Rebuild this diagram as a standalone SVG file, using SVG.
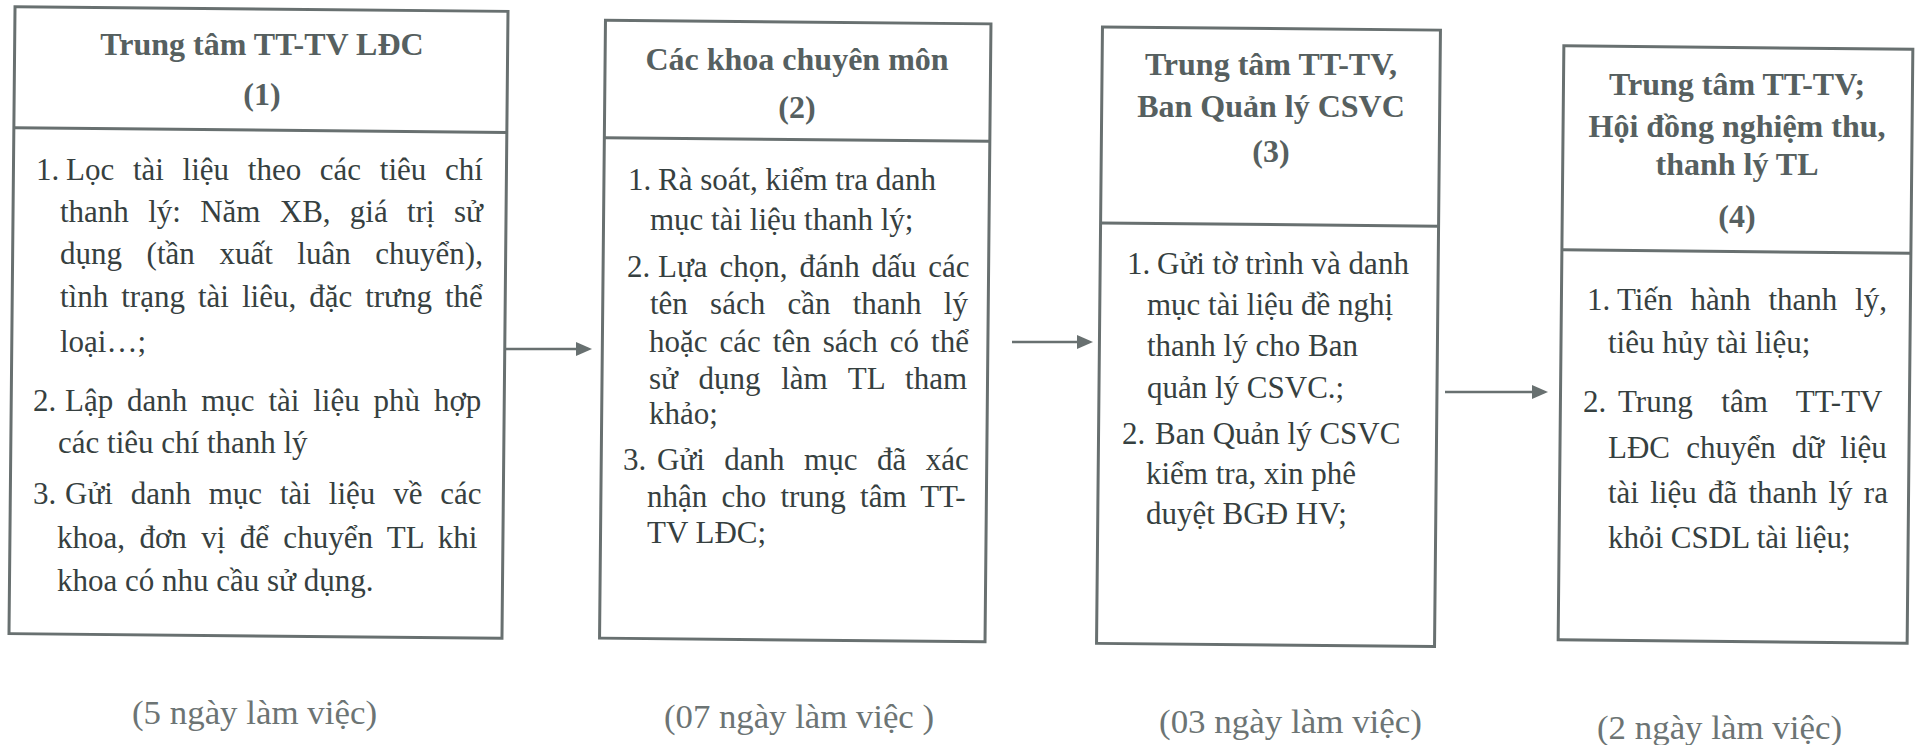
<svg xmlns="http://www.w3.org/2000/svg" width="1915" height="745" viewBox="0 0 1915 745">
<style>
.frame{fill:#fff;stroke:#687070;stroke-width:3}
.div{stroke:#687070;stroke-width:3}
.hd{font-family:"Liberation Serif","Times New Roman",serif;font-weight:bold;font-size:32px;fill:#566060;text-anchor:middle}
.bd{font-family:"Liberation Serif","Times New Roman",serif;font-size:31px;fill:#364040}
.ft{font-family:"Liberation Serif","Times New Roman",serif;font-size:33px;fill:#6c7474}
.conn{stroke:#687070;stroke-width:2.5;fill:none}
</style>
<defs>
<marker id="ah" viewBox="0 0 16 14" refX="8" refY="7" markerWidth="16" markerHeight="14" markerUnits="userSpaceOnUse" orient="auto">
<path d="M0,0 L16,7 L0,14 z" fill="#687070"/>
</marker>
</defs>
<rect width="1915" height="745" fill="#fff"/>

<g id="node1">
<g transform="rotate(0.55 258.5 322.5)">
<rect class="frame" x="12" y="9" width="493" height="627"/>
<line class="div" x1="12" y1="130" x2="505" y2="130"/>
</g>
<text class="hd" x="262" y="55">Trung tâm TT-TV LĐC</text>
<text class="hd" x="262" y="105">(1)</text>
<text class="bd" x="36" y="180">1.</text>
<text class="bd" x="66" y="180" word-spacing="10.95">Lọc tài liệu theo các tiêu chí</text>
<text class="bd" x="60" y="222" word-spacing="11.55">thanh lý: Năm XB, giá trị sử</text>
<text class="bd" x="60" y="264" word-spacing="16.85">dụng (tần xuất luân chuyển),</text>
<text class="bd" x="60" y="307" word-spacing="5.25">tình trạng tài liêu, đặc trưng thể</text>
<text class="bd" x="60" y="352">loại…;</text>
<text class="bd" x="33" y="411">2.</text>
<text class="bd" x="65" y="411" word-spacing="6.1">Lập danh mục tài liệu phù hợp</text>
<text class="bd" x="58" y="453">các tiêu chí thanh lý</text>
<text class="bd" x="33" y="504">3.</text>
<text class="bd" x="65" y="504" word-spacing="10.1">Gửi danh mục tài liệu về các</text>
<text class="bd" x="57" y="548" word-spacing="6.65">khoa, đơn vị để chuyển TL khi</text>
<text class="bd" x="57" y="591">khoa có nhu cầu sử dụng.</text>
</g>

<g id="node2">
<g transform="rotate(0.55 795 331)">
<rect class="frame" x="602.5" y="22" width="385.5" height="618"/>
<line class="div" x1="602.5" y1="139.5" x2="988" y2="139.5"/>
</g>
<text class="hd" x="797" y="70">Các khoa chuyên môn</text>
<text class="hd" x="797" y="118">(2)</text>
<text class="bd" x="628" y="190">1.</text>
<text class="bd" x="658" y="190">Rà soát, kiểm tra danh</text>
<text class="bd" x="650" y="230">mục tài liệu thanh lý;</text>
<text class="bd" x="627" y="277">2.</text>
<text class="bd" x="658" y="277" word-spacing="4.2">Lựa chọn, đánh dấu các</text>
<text class="bd" x="650" y="314" word-spacing="14.5">tên sách cần thanh lý</text>
<text class="bd" x="649" y="352" word-spacing="4.27">hoặc các tên sách có thể</text>
<text class="bd" x="649" y="389" word-spacing="12.9">sử dụng làm TL tham</text>
<text class="bd" x="649" y="424">khảo;</text>
<text class="bd" x="623" y="470">3.</text>
<text class="bd" x="657" y="470" word-spacing="11.75">Gửi danh mục đã xác</text>
<text class="bd" x="647" y="507" word-spacing="6.45">nhận cho trung tâm TT-</text>
<text class="bd" x="647" y="543">TV LĐC;</text>
</g>

<g id="node3">
<g transform="rotate(0.55 1268.5 336.75)">
<rect class="frame" x="1099.5" y="28.5" width="338" height="616.5"/>
<line class="div" x1="1099.5" y1="224.5" x2="1437.5" y2="224.5"/>
</g>
<text class="hd" x="1271" y="75">Trung tâm TT-TV,</text>
<text class="hd" x="1271" y="117">Ban Quản lý CSVC</text>
<text class="hd" x="1271" y="162">(3)</text>
<text class="bd" x="1127" y="274">1.</text>
<text class="bd" x="1157" y="274">Gửi tờ trình và danh</text>
<text class="bd" x="1147" y="315">mục tài liệu đề nghị</text>
<text class="bd" x="1147" y="356">thanh lý cho Ban</text>
<text class="bd" x="1147" y="398">quản lý CSVC.;</text>
<text class="bd" x="1122" y="444">2.</text>
<text class="bd" x="1155" y="444">Ban Quản lý CSVC</text>
<text class="bd" x="1146" y="484">kiểm tra, xin phê</text>
<text class="bd" x="1146" y="524">duyệt BGĐ HV;</text>
</g>

<g id="node4">
<g transform="rotate(0.55 1735.5 344.5)">
<rect class="frame" x="1561" y="47.5" width="349" height="594"/>
<line class="div" x1="1561" y1="251.5" x2="1910" y2="251.5"/>
</g>
<text class="hd" x="1737" y="95">Trung tâm TT-TV;</text>
<text class="hd" x="1737" y="137">Hội đồng nghiệm thu,</text>
<text class="hd" x="1737" y="175">thanh lý TL</text>
<text class="hd" x="1737" y="227">(4)</text>
<text class="bd" x="1587" y="310">1.</text>
<text class="bd" x="1617" y="310" word-spacing="9.98">Tiến hành thanh lý,</text>
<text class="bd" x="1608" y="353">tiêu hủy tài liệu;</text>
<text class="bd" x="1583" y="412">2.</text>
<text class="bd" x="1618" y="412" word-spacing="20.85">Trung tâm TT-TV</text>
<text class="bd" x="1608" y="458" word-spacing="8.4">LĐC chuyển dữ liệu</text>
<text class="bd" x="1608" y="503" word-spacing="3.47">tài liệu đã thanh lý ra</text>
<text class="bd" x="1608" y="548">khỏi CSDL tài liệu;</text>
</g>

<g id="connectors">
<path class="conn" d="M506,349 H584" marker-end="url(#ah)"/>
<path class="conn" d="M1012,342 H1085" marker-end="url(#ah)"/>
<path class="conn" d="M1445,392 H1540" marker-end="url(#ah)"/>
</g>

<g id="durations">
<text class="ft" x="132" y="724" textLength="245" lengthAdjust="spacingAndGlyphs">(5 ngày làm việc)</text>
<text class="ft" x="664" y="728" textLength="270" lengthAdjust="spacingAndGlyphs">(07 ngày làm việc )</text>
<text class="ft" x="1159" y="733" textLength="263" lengthAdjust="spacingAndGlyphs">(03 ngày làm việc)</text>
<text class="ft" x="1597" y="739" textLength="245" lengthAdjust="spacingAndGlyphs">(2 ngày làm việc)</text>
</g>
</svg>
